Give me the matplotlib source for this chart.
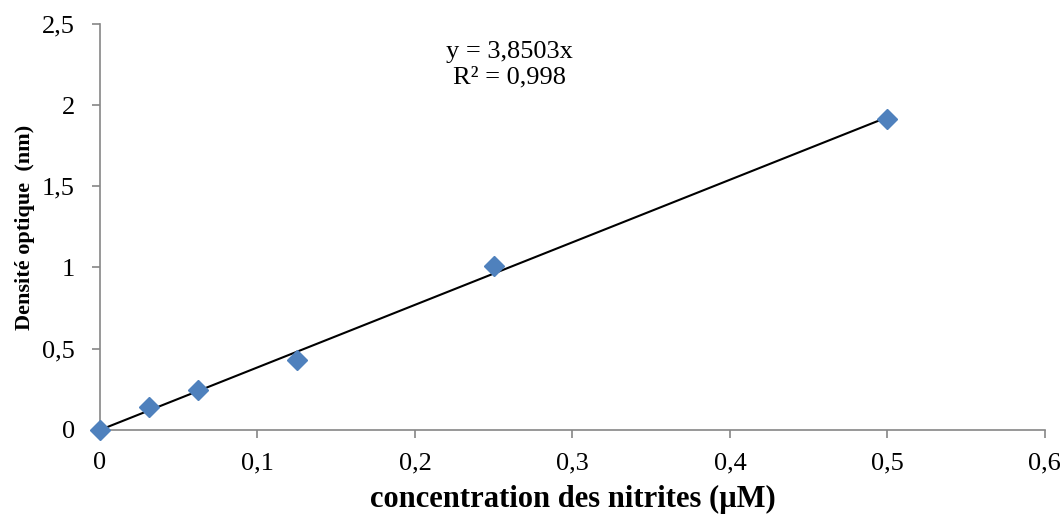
import matplotlib.pyplot as plt
import numpy as np

# standard curve data
concentration = [0, 0.03125, 0.0625, 0.125, 0.25, 0.5]
absorbance = [0, 0.142, 0.246, 0.431, 1.01, 1.915]

slope = 3.8503
r2_text = "0,998"

x_ticks = [0, 0.1, 0.2, 0.3, 0.4, 0.5, 0.6]
x_labels = ["0", "0,1", "0,2", "0,3", "0,4", "0,5", "0,6"]
y_ticks = [0, 0.5, 1, 1.5, 2, 2.5]
y_labels = ["0", "0,5", "1", "1,5", "2", "2,5"]


def main():
    plt.rcParams["font.family"] = ["Liberation Serif", "DejaVu Serif"]
    fig = plt.figure(figsize=(10.64, 5.18), dpi=100)
    ax = fig.add_axes([0.094, 0.170, 0.888, 0.784])

    fit_x = np.array([0, max(concentration)])
    ax.plot(fit_x, slope * fit_x, color="black", lw=1.5, zorder=2)
    ax.plot(concentration, absorbance, linestyle="none", marker="D",
            markersize=10, color="#4F81BD", zorder=3, clip_on=False)

    ax.text(0.26, 2.25, "y = 3,8503x\nR² = " + r2_text, ha="center",
            va="center", fontsize=19, linespacing=1.2)

    ax.set_xlim(0, 0.6)
    ax.set_ylim(0, 2.5)
    ax.set_xticks(x_ticks)
    ax.set_xticklabels(x_labels)
    ax.set_yticks(y_ticks)
    ax.set_yticklabels(y_labels)

    for side in ["top", "right"]:
        ax.spines[side].set_visible(False)
    for side in ["left", "bottom"]:
        ax.spines[side].set_color("#868686")
        ax.spines[side].set_linewidth(1.2)
    ax.tick_params(colors="#868686", labelcolor="black", labelsize=19,
                   length=6, width=1.2)
    ax.tick_params(axis="x", pad=10)
    ax.tick_params(axis="y", pad=12)

    ax.set_xlabel("concentration des nitrites (µM)", fontsize=22,
                  fontweight="bold", labelpad=8)
    ax.set_ylabel("Densité optique  (nm)", fontsize=16, fontweight="bold",
                  labelpad=5)

    fig.savefig("out.png", dpi=100)


if __name__ == "__main__":
    main()
